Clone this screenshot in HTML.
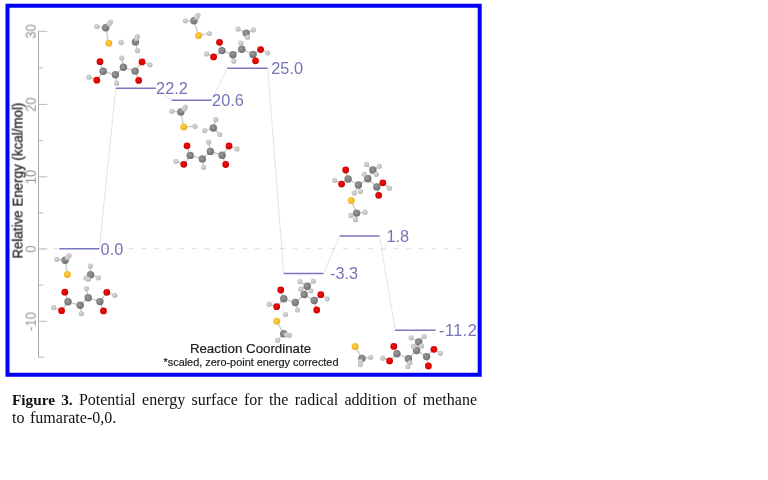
<!DOCTYPE html>
<html><head><meta charset="utf-8"><title>Figure 3</title>
<style>
html,body{margin:0;padding:0;background:#fff;}
body{width:768px;height:480px;position:relative;overflow:hidden;font-family:"Liberation Sans",sans-serif;}
#frame{position:absolute;left:5.5px;top:4px;width:468.2px;height:364.8px;border:4px solid #0000fa;}
svg{position:absolute;left:0;top:0;}
.ax{stroke:#aaaaaa;stroke-width:1;fill:none}
.tc{stroke:#adadad;stroke-width:0.85;fill:none}
.tk{font:14.3px "Liberation Sans",sans-serif;fill:#949494}
.yl{font:14.4px "Liberation Sans",sans-serif;fill:#1a1a1a;stroke:#1a1a1a;stroke-width:0.25}
.lv{stroke:#7878c0;stroke-width:1.4}
.cn{stroke:#adadad;stroke-width:0.8;stroke-dasharray:0.9 1.25}
.zero{stroke:#dcdcdc;stroke-width:1.1;stroke-dasharray:5 7.6}
.lb{font:16.3px "Liberation Sans",sans-serif;fill:#7474b6}
.bd{stroke:#c6c6c6;stroke-width:1.25}
#mols{filter:blur(0.35px)}
.tk,.yl,.lb,.xl,.xs{filter:blur(0.25px)}
.xl{font:13.3px "Liberation Sans",sans-serif;fill:#1c1c1c;stroke:#1c1c1c;stroke-width:0.2}
.xs{font:10.9px "Liberation Sans",sans-serif;fill:#1c1c1c;stroke:#1c1c1c;stroke-width:0.2}
#cap{position:absolute;left:12px;top:390.6px;width:465px;font-family:"Liberation Serif",serif;font-size:16px;line-height:18.8px;color:#111;text-align:justify;}
#cap b{font-weight:bold;font-size:15.3px}
#cap .l1{text-align:justify;text-align-last:justify;white-space:nowrap}
#cap .l2{text-align:left;word-spacing:1.6px}
</style></head><body>
<svg width="768" height="480" viewBox="0 0 768 480">
<defs>
<radialGradient id="gO" cx="42%" cy="40%" r="60%"><stop offset="0" stop-color="#f01818"/><stop offset="0.6" stop-color="#dc0000"/><stop offset="1" stop-color="#c80808"/></radialGradient>
<radialGradient id="gC" cx="42%" cy="40%" r="60%"><stop offset="0" stop-color="#9a9a9a"/><stop offset="0.6" stop-color="#808080"/><stop offset="1" stop-color="#707070"/></radialGradient>
<radialGradient id="gH" cx="42%" cy="40%" r="60%"><stop offset="0" stop-color="#dcdcdc"/><stop offset="0.6" stop-color="#c6c6c6"/><stop offset="1" stop-color="#b4b4b4"/></radialGradient>
<radialGradient id="gS" cx="42%" cy="40%" r="60%"><stop offset="0" stop-color="#ffd24a"/><stop offset="0.6" stop-color="#f6bc2c"/><stop offset="1" stop-color="#eab028"/></radialGradient>
</defs>
<rect x="7.5" y="5.75" width="472.2" height="369" fill="none" stroke="#0000fa" stroke-width="4"/>
<line class="zero" x1="40.6" y1="248.8" x2="461.5" y2="248.8"/>
<line class="ax" x1="38.5" y1="30.9" x2="38.5" y2="357.6"/>
<line class="tc" x1="38.5" y1="357.2" x2="44.1" y2="357.2"/>
<line class="tc" x1="38.5" y1="321.3" x2="47.3" y2="321.3"/>
<line class="tc" x1="38.5" y1="285.2" x2="43.1" y2="285.2"/>
<line class="tc" x1="38.5" y1="249.0" x2="47.3" y2="249.0"/>
<line class="tc" x1="38.5" y1="212.9" x2="43.1" y2="212.9"/>
<line class="tc" x1="38.5" y1="176.8" x2="47.3" y2="176.8"/>
<line class="tc" x1="38.5" y1="140.6" x2="43.1" y2="140.6"/>
<line class="tc" x1="38.5" y1="104.4" x2="47.3" y2="104.4"/>
<line class="tc" x1="38.5" y1="67.8" x2="43.1" y2="67.8"/>
<line class="tc" x1="38.5" y1="31.3" x2="47.3" y2="31.3"/>
<text class="tk" transform="translate(35.7,31.5) rotate(-90) scale(0.91,1)" text-anchor="middle">30</text>
<text class="tk" transform="translate(35.7,104.6) rotate(-90) scale(0.91,1)" text-anchor="middle">20</text>
<text class="tk" transform="translate(35.7,177.0) rotate(-90) scale(0.91,1)" text-anchor="middle">10</text>
<text class="tk" transform="translate(35.7,249.2) rotate(-90) scale(0.91,1)" text-anchor="middle">0</text>
<text class="tk" transform="translate(35.7,321.5) rotate(-90) scale(0.91,1)" text-anchor="middle">-10</text>
<text class="yl" transform="translate(22.6,180.6) rotate(-90) scale(0.93,1)" text-anchor="middle">Relative Energy (kcal/mol)</text>
<line class="cn" x1="99.3" y1="248.8" x2="115.8" y2="88.3"/>
<line class="cn" x1="155.8" y1="88.3" x2="171.7" y2="100.2"/>
<line class="cn" x1="211.6" y1="100.2" x2="227.2" y2="68.3"/>
<line class="cn" x1="267.7" y1="68.3" x2="283.7" y2="273.5"/>
<line class="cn" x1="323.5" y1="273.5" x2="339.7" y2="236.0"/>
<line class="cn" x1="379.5" y1="236.0" x2="395.3" y2="330.3"/>
<line class="lv" x1="59.3" y1="248.8" x2="99.3" y2="248.8"/>
<line class="lv" x1="115.8" y1="88.3" x2="155.8" y2="88.3"/>
<line class="lv" x1="171.7" y1="100.2" x2="211.6" y2="100.2"/>
<line class="lv" x1="227.2" y1="68.3" x2="267.7" y2="68.3"/>
<line class="lv" x1="283.7" y1="273.5" x2="323.5" y2="273.5"/>
<line class="lv" x1="339.7" y1="236.0" x2="379.5" y2="236.0"/>
<line class="lv" x1="395.3" y1="330.3" x2="435.7" y2="330.3"/>
<g id="mols">
<g>
<line class="bd" x1="64.8" y1="292.2" x2="68.0" y2="301.8"/>
<line class="bd" x1="68.0" y1="301.8" x2="61.6" y2="310.7"/>
<line class="bd" x1="61.6" y1="310.7" x2="53.7" y2="307.7"/>
<line class="bd" x1="68.0" y1="301.8" x2="80.2" y2="305.3"/>
<line class="bd" x1="80.2" y1="305.3" x2="81.4" y2="313.7"/>
<line class="bd" x1="80.2" y1="305.3" x2="88.2" y2="297.8"/>
<line class="bd" x1="88.2" y1="297.8" x2="86.5" y2="288.6"/>
<line class="bd" x1="88.2" y1="297.8" x2="99.9" y2="301.6"/>
<line class="bd" x1="99.9" y1="301.6" x2="106.8" y2="292.3"/>
<line class="bd" x1="106.8" y1="292.3" x2="114.8" y2="295.3"/>
<line class="bd" x1="99.9" y1="301.6" x2="103.5" y2="310.9"/>
<line class="bd" x1="56.8" y1="259.4" x2="65.1" y2="260.2"/>
<line class="bd" x1="65.1" y1="260.2" x2="69.0" y2="255.5"/>
<line class="bd" x1="65.1" y1="260.2" x2="67.6" y2="257.6"/>
<line class="bd" x1="65.1" y1="260.2" x2="67.4" y2="274.5"/>
<line class="bd" x1="90.6" y1="274.7" x2="90.4" y2="266.1"/>
<line class="bd" x1="90.6" y1="274.7" x2="85.9" y2="278.1"/>
<line class="bd" x1="90.6" y1="274.7" x2="98.4" y2="277.8"/>
<line class="bd" x1="90.6" y1="274.7" x2="88.3" y2="279.2"/>
<circle cx="64.8" cy="292.2" r="3.4" fill="url(#gO)"/>
<circle cx="68.0" cy="301.8" r="3.7" fill="url(#gC)"/>
<circle cx="61.6" cy="310.7" r="3.4" fill="url(#gO)"/>
<circle cx="53.7" cy="307.7" r="2.6" fill="url(#gH)"/>
<circle cx="80.2" cy="305.3" r="3.7" fill="url(#gC)"/>
<circle cx="81.4" cy="313.7" r="2.6" fill="url(#gH)"/>
<circle cx="88.2" cy="297.8" r="3.7" fill="url(#gC)"/>
<circle cx="86.5" cy="288.6" r="2.6" fill="url(#gH)"/>
<circle cx="99.9" cy="301.6" r="3.7" fill="url(#gC)"/>
<circle cx="106.8" cy="292.3" r="3.4" fill="url(#gO)"/>
<circle cx="114.8" cy="295.3" r="2.6" fill="url(#gH)"/>
<circle cx="103.5" cy="310.9" r="3.4" fill="url(#gO)"/>
<circle cx="56.8" cy="259.4" r="2.6" fill="url(#gH)"/>
<circle cx="65.1" cy="260.2" r="3.7" fill="url(#gC)"/>
<circle cx="69.0" cy="255.5" r="2.6" fill="url(#gH)"/>
<circle cx="67.6" cy="257.6" r="2.6" fill="url(#gH)"/>
<circle cx="67.4" cy="274.5" r="3.5" fill="url(#gS)"/>
<circle cx="90.6" cy="274.7" r="3.7" fill="url(#gC)"/>
<circle cx="90.4" cy="266.1" r="2.6" fill="url(#gH)"/>
<circle cx="85.9" cy="278.1" r="2.6" fill="url(#gH)"/>
<circle cx="98.4" cy="277.8" r="2.6" fill="url(#gH)"/>
<circle cx="88.3" cy="279.2" r="2.6" fill="url(#gH)"/>
</g>
<g>
<line class="bd" x1="100.0" y1="61.7" x2="103.2" y2="71.3"/>
<line class="bd" x1="103.2" y1="71.3" x2="96.8" y2="80.2"/>
<line class="bd" x1="96.8" y1="80.2" x2="88.9" y2="77.2"/>
<line class="bd" x1="103.2" y1="71.3" x2="115.4" y2="74.8"/>
<line class="bd" x1="115.4" y1="74.8" x2="116.6" y2="83.2"/>
<line class="bd" x1="115.4" y1="74.8" x2="123.4" y2="67.3"/>
<line class="bd" x1="123.4" y1="67.3" x2="121.7" y2="58.1"/>
<line class="bd" x1="123.4" y1="67.3" x2="135.1" y2="71.1"/>
<line class="bd" x1="135.1" y1="71.1" x2="142.0" y2="61.9"/>
<line class="bd" x1="142.0" y1="61.9" x2="150.0" y2="64.8"/>
<line class="bd" x1="135.1" y1="71.1" x2="138.7" y2="80.4"/>
<line class="bd" x1="96.8" y1="26.5" x2="105.7" y2="27.7"/>
<line class="bd" x1="105.7" y1="27.7" x2="110.4" y2="22.0"/>
<line class="bd" x1="105.7" y1="27.7" x2="109.0" y2="24.0"/>
<line class="bd" x1="105.7" y1="27.7" x2="108.8" y2="43.3"/>
<line class="bd" x1="135.4" y1="41.9" x2="137.5" y2="36.5"/>
<line class="bd" x1="135.4" y1="41.9" x2="137.5" y2="50.7"/>
<line class="bd" x1="135.4" y1="41.9" x2="136.5" y2="38.5"/>
<circle cx="100.0" cy="61.7" r="3.4" fill="url(#gO)"/>
<circle cx="103.2" cy="71.3" r="3.7" fill="url(#gC)"/>
<circle cx="96.8" cy="80.2" r="3.4" fill="url(#gO)"/>
<circle cx="88.9" cy="77.2" r="2.6" fill="url(#gH)"/>
<circle cx="115.4" cy="74.8" r="3.7" fill="url(#gC)"/>
<circle cx="116.6" cy="83.2" r="2.6" fill="url(#gH)"/>
<circle cx="123.4" cy="67.3" r="3.7" fill="url(#gC)"/>
<circle cx="121.7" cy="58.1" r="2.6" fill="url(#gH)"/>
<circle cx="135.1" cy="71.1" r="3.7" fill="url(#gC)"/>
<circle cx="142.0" cy="61.9" r="3.4" fill="url(#gO)"/>
<circle cx="150.0" cy="64.8" r="2.6" fill="url(#gH)"/>
<circle cx="138.7" cy="80.4" r="3.4" fill="url(#gO)"/>
<circle cx="96.8" cy="26.5" r="2.6" fill="url(#gH)"/>
<circle cx="105.7" cy="27.7" r="3.7" fill="url(#gC)"/>
<circle cx="110.4" cy="22.0" r="2.6" fill="url(#gH)"/>
<circle cx="109.0" cy="24.0" r="2.6" fill="url(#gH)"/>
<circle cx="108.8" cy="43.3" r="3.5" fill="url(#gS)"/>
<circle cx="121.1" cy="42.4" r="2.6" fill="url(#gH)"/>
<circle cx="135.4" cy="41.9" r="3.7" fill="url(#gC)"/>
<circle cx="137.5" cy="36.5" r="2.6" fill="url(#gH)"/>
<circle cx="137.5" cy="50.7" r="2.6" fill="url(#gH)"/>
<circle cx="136.5" cy="38.5" r="2.6" fill="url(#gH)"/>
</g>
<g>
<line class="bd" x1="187.0" y1="145.8" x2="190.2" y2="155.4"/>
<line class="bd" x1="190.2" y1="155.4" x2="183.8" y2="164.3"/>
<line class="bd" x1="183.8" y1="164.3" x2="175.9" y2="161.3"/>
<line class="bd" x1="190.2" y1="155.4" x2="202.4" y2="158.9"/>
<line class="bd" x1="202.4" y1="158.9" x2="203.6" y2="167.3"/>
<line class="bd" x1="202.4" y1="158.9" x2="210.4" y2="151.4"/>
<line class="bd" x1="210.4" y1="151.4" x2="208.7" y2="142.2"/>
<line class="bd" x1="210.4" y1="151.4" x2="222.1" y2="155.2"/>
<line class="bd" x1="222.1" y1="155.2" x2="229.0" y2="146.0"/>
<line class="bd" x1="229.0" y1="146.0" x2="237.0" y2="148.9"/>
<line class="bd" x1="222.1" y1="155.2" x2="225.7" y2="164.5"/>
<line class="bd" x1="172.0" y1="111.3" x2="180.8" y2="112.0"/>
<line class="bd" x1="180.8" y1="112.0" x2="185.3" y2="107.0"/>
<line class="bd" x1="180.8" y1="112.0" x2="184.0" y2="109.0"/>
<line class="bd" x1="180.8" y1="112.0" x2="183.8" y2="127.0"/>
<line class="bd" x1="183.8" y1="127.0" x2="195.0" y2="126.3"/>
<line class="bd" x1="213.3" y1="128.0" x2="215.8" y2="119.7"/>
<line class="bd" x1="213.3" y1="128.0" x2="204.7" y2="130.5"/>
<line class="bd" x1="213.3" y1="128.0" x2="219.7" y2="134.5"/>
<circle cx="187.0" cy="145.8" r="3.4" fill="url(#gO)"/>
<circle cx="190.2" cy="155.4" r="3.7" fill="url(#gC)"/>
<circle cx="183.8" cy="164.3" r="3.4" fill="url(#gO)"/>
<circle cx="175.9" cy="161.3" r="2.6" fill="url(#gH)"/>
<circle cx="202.4" cy="158.9" r="3.7" fill="url(#gC)"/>
<circle cx="203.6" cy="167.3" r="2.6" fill="url(#gH)"/>
<circle cx="210.4" cy="151.4" r="3.7" fill="url(#gC)"/>
<circle cx="208.7" cy="142.2" r="2.6" fill="url(#gH)"/>
<circle cx="222.1" cy="155.2" r="3.7" fill="url(#gC)"/>
<circle cx="229.0" cy="146.0" r="3.4" fill="url(#gO)"/>
<circle cx="237.0" cy="148.9" r="2.6" fill="url(#gH)"/>
<circle cx="225.7" cy="164.5" r="3.4" fill="url(#gO)"/>
<circle cx="172.0" cy="111.3" r="2.6" fill="url(#gH)"/>
<circle cx="180.8" cy="112.0" r="3.7" fill="url(#gC)"/>
<circle cx="185.3" cy="107.0" r="2.6" fill="url(#gH)"/>
<circle cx="184.0" cy="109.0" r="2.6" fill="url(#gH)"/>
<circle cx="183.8" cy="127.0" r="3.5" fill="url(#gS)"/>
<circle cx="195.0" cy="126.3" r="2.6" fill="url(#gH)"/>
<circle cx="213.3" cy="128.0" r="3.7" fill="url(#gC)"/>
<circle cx="215.8" cy="119.7" r="2.6" fill="url(#gH)"/>
<circle cx="204.7" cy="130.5" r="2.6" fill="url(#gH)"/>
<circle cx="219.7" cy="134.5" r="2.6" fill="url(#gH)"/>
</g>
<g>
<line class="bd" x1="185.5" y1="20.8" x2="194.0" y2="20.8"/>
<line class="bd" x1="194.0" y1="20.8" x2="197.9" y2="15.3"/>
<line class="bd" x1="194.0" y1="20.8" x2="196.6" y2="17.3"/>
<line class="bd" x1="194.0" y1="20.8" x2="198.6" y2="35.4"/>
<line class="bd" x1="198.6" y1="35.4" x2="209.3" y2="33.5"/>
<line class="bd" x1="246.2" y1="33.1" x2="238.0" y2="29.1"/>
<line class="bd" x1="246.2" y1="33.1" x2="253.3" y2="29.9"/>
<line class="bd" x1="246.2" y1="33.1" x2="247.5" y2="37.2"/>
<line class="bd" x1="219.5" y1="42.3" x2="222.0" y2="50.6"/>
<line class="bd" x1="222.0" y1="50.6" x2="213.6" y2="56.9"/>
<line class="bd" x1="213.6" y1="56.9" x2="206.6" y2="53.9"/>
<line class="bd" x1="222.0" y1="50.6" x2="232.9" y2="54.7"/>
<line class="bd" x1="232.9" y1="54.7" x2="233.8" y2="61.2"/>
<line class="bd" x1="232.9" y1="54.7" x2="241.8" y2="49.3"/>
<line class="bd" x1="241.8" y1="49.3" x2="240.9" y2="43.0"/>
<line class="bd" x1="241.8" y1="49.3" x2="253.0" y2="54.4"/>
<line class="bd" x1="253.0" y1="54.4" x2="260.6" y2="49.6"/>
<line class="bd" x1="260.6" y1="49.6" x2="267.6" y2="52.8"/>
<line class="bd" x1="253.0" y1="54.4" x2="255.5" y2="60.8"/>
<circle cx="185.5" cy="20.8" r="2.6" fill="url(#gH)"/>
<circle cx="194.0" cy="20.8" r="3.7" fill="url(#gC)"/>
<circle cx="197.9" cy="15.3" r="2.6" fill="url(#gH)"/>
<circle cx="196.6" cy="17.3" r="2.6" fill="url(#gH)"/>
<circle cx="198.6" cy="35.4" r="3.5" fill="url(#gS)"/>
<circle cx="209.3" cy="33.5" r="2.6" fill="url(#gH)"/>
<circle cx="246.2" cy="33.1" r="3.7" fill="url(#gC)"/>
<circle cx="238.0" cy="29.1" r="2.6" fill="url(#gH)"/>
<circle cx="253.3" cy="29.9" r="2.6" fill="url(#gH)"/>
<circle cx="247.5" cy="37.2" r="2.6" fill="url(#gH)"/>
<circle cx="219.5" cy="42.3" r="3.4" fill="url(#gO)"/>
<circle cx="222.0" cy="50.6" r="3.7" fill="url(#gC)"/>
<circle cx="213.6" cy="56.9" r="3.4" fill="url(#gO)"/>
<circle cx="206.6" cy="53.9" r="2.6" fill="url(#gH)"/>
<circle cx="232.9" cy="54.7" r="3.7" fill="url(#gC)"/>
<circle cx="233.8" cy="61.2" r="2.6" fill="url(#gH)"/>
<circle cx="241.8" cy="49.3" r="3.7" fill="url(#gC)"/>
<circle cx="240.9" cy="43.0" r="2.6" fill="url(#gH)"/>
<circle cx="253.0" cy="54.4" r="3.7" fill="url(#gC)"/>
<circle cx="260.6" cy="49.6" r="3.4" fill="url(#gO)"/>
<circle cx="267.6" cy="52.8" r="2.6" fill="url(#gH)"/>
<circle cx="255.5" cy="60.8" r="3.4" fill="url(#gO)"/>
</g>
<g>
<line class="bd" x1="280.8" y1="290.0" x2="283.7" y2="298.8"/>
<line class="bd" x1="283.7" y1="298.8" x2="276.7" y2="306.7"/>
<line class="bd" x1="276.7" y1="306.7" x2="269.2" y2="304.2"/>
<line class="bd" x1="283.7" y1="298.8" x2="295.3" y2="302.5"/>
<line class="bd" x1="295.3" y1="302.5" x2="297.5" y2="310.0"/>
<line class="bd" x1="295.3" y1="302.5" x2="304.2" y2="294.5"/>
<line class="bd" x1="304.2" y1="294.5" x2="307.2" y2="286.3"/>
<line class="bd" x1="307.2" y1="286.3" x2="300.8" y2="289.2"/>
<line class="bd" x1="307.2" y1="286.3" x2="310.8" y2="290.8"/>
<line class="bd" x1="307.2" y1="286.3" x2="300.0" y2="281.7"/>
<line class="bd" x1="307.2" y1="286.3" x2="313.3" y2="281.2"/>
<line class="bd" x1="304.2" y1="294.5" x2="314.2" y2="300.5"/>
<line class="bd" x1="314.2" y1="300.5" x2="320.8" y2="294.7"/>
<line class="bd" x1="320.8" y1="294.7" x2="327.2" y2="298.8"/>
<line class="bd" x1="314.2" y1="300.5" x2="316.7" y2="310.0"/>
<line class="bd" x1="276.7" y1="321.3" x2="283.7" y2="333.7"/>
<line class="bd" x1="283.7" y1="333.7" x2="289.5" y2="335.3"/>
<line class="bd" x1="283.7" y1="333.7" x2="277.5" y2="340.3"/>
<line class="bd" x1="283.7" y1="333.7" x2="286.5" y2="334.8"/>
<circle cx="280.8" cy="290.0" r="3.4" fill="url(#gO)"/>
<circle cx="283.7" cy="298.8" r="3.7" fill="url(#gC)"/>
<circle cx="276.7" cy="306.7" r="3.4" fill="url(#gO)"/>
<circle cx="269.2" cy="304.2" r="2.6" fill="url(#gH)"/>
<circle cx="295.3" cy="302.5" r="3.7" fill="url(#gC)"/>
<circle cx="297.5" cy="310.0" r="2.6" fill="url(#gH)"/>
<circle cx="304.2" cy="294.5" r="3.7" fill="url(#gC)"/>
<circle cx="300.8" cy="289.2" r="2.6" fill="url(#gH)"/>
<circle cx="310.8" cy="290.8" r="2.6" fill="url(#gH)"/>
<circle cx="307.2" cy="286.3" r="3.7" fill="url(#gC)"/>
<circle cx="300.0" cy="281.7" r="2.6" fill="url(#gH)"/>
<circle cx="313.3" cy="281.2" r="2.6" fill="url(#gH)"/>
<circle cx="314.2" cy="300.5" r="3.7" fill="url(#gC)"/>
<circle cx="320.8" cy="294.7" r="3.4" fill="url(#gO)"/>
<circle cx="327.2" cy="298.8" r="2.6" fill="url(#gH)"/>
<circle cx="316.7" cy="310.0" r="3.4" fill="url(#gO)"/>
<circle cx="276.7" cy="321.3" r="3.5" fill="url(#gS)"/>
<circle cx="285.5" cy="314.5" r="2.6" fill="url(#gH)"/>
<circle cx="283.7" cy="333.7" r="3.7" fill="url(#gC)"/>
<circle cx="289.5" cy="335.3" r="2.6" fill="url(#gH)"/>
<circle cx="277.5" cy="340.3" r="2.6" fill="url(#gH)"/>
<circle cx="286.5" cy="334.8" r="2.6" fill="url(#gH)"/>
</g>
<g>
<line class="bd" x1="345.7" y1="170.0" x2="348.1" y2="179.0"/>
<line class="bd" x1="348.1" y1="179.0" x2="341.6" y2="184.1"/>
<line class="bd" x1="341.6" y1="184.1" x2="334.6" y2="180.3"/>
<line class="bd" x1="348.1" y1="179.0" x2="358.4" y2="185.0"/>
<line class="bd" x1="358.4" y1="185.0" x2="360.3" y2="191.6"/>
<line class="bd" x1="358.4" y1="185.0" x2="354.3" y2="193.1"/>
<line class="bd" x1="358.4" y1="185.0" x2="367.8" y2="178.8"/>
<line class="bd" x1="367.8" y1="178.8" x2="364.4" y2="174.3"/>
<line class="bd" x1="367.8" y1="178.8" x2="372.9" y2="170.0"/>
<line class="bd" x1="372.9" y1="170.0" x2="366.5" y2="164.4"/>
<line class="bd" x1="372.9" y1="170.0" x2="379.4" y2="166.3"/>
<line class="bd" x1="372.9" y1="170.0" x2="376.3" y2="174.3"/>
<line class="bd" x1="367.8" y1="178.8" x2="376.8" y2="186.9"/>
<line class="bd" x1="376.8" y1="186.9" x2="382.8" y2="182.8"/>
<line class="bd" x1="382.8" y1="182.8" x2="389.4" y2="188.2"/>
<line class="bd" x1="376.8" y1="186.9" x2="378.7" y2="195.3"/>
<line class="bd" x1="351.3" y1="200.6" x2="356.6" y2="213.1"/>
<line class="bd" x1="356.6" y1="213.1" x2="365.0" y2="212.2"/>
<line class="bd" x1="356.6" y1="213.1" x2="350.9" y2="215.4"/>
<line class="bd" x1="356.6" y1="213.1" x2="355.6" y2="219.7"/>
<circle cx="345.7" cy="170.0" r="3.4" fill="url(#gO)"/>
<circle cx="348.1" cy="179.0" r="3.7" fill="url(#gC)"/>
<circle cx="341.6" cy="184.1" r="3.4" fill="url(#gO)"/>
<circle cx="334.6" cy="180.3" r="2.6" fill="url(#gH)"/>
<circle cx="358.4" cy="185.0" r="3.7" fill="url(#gC)"/>
<circle cx="360.3" cy="191.6" r="2.6" fill="url(#gH)"/>
<circle cx="354.3" cy="193.1" r="2.6" fill="url(#gH)"/>
<circle cx="367.8" cy="178.8" r="3.7" fill="url(#gC)"/>
<circle cx="364.4" cy="174.3" r="2.6" fill="url(#gH)"/>
<circle cx="372.9" cy="170.0" r="3.7" fill="url(#gC)"/>
<circle cx="366.5" cy="164.4" r="2.6" fill="url(#gH)"/>
<circle cx="379.4" cy="166.3" r="2.6" fill="url(#gH)"/>
<circle cx="376.3" cy="174.3" r="2.6" fill="url(#gH)"/>
<circle cx="376.8" cy="186.9" r="3.7" fill="url(#gC)"/>
<circle cx="382.8" cy="182.8" r="3.4" fill="url(#gO)"/>
<circle cx="389.4" cy="188.2" r="2.6" fill="url(#gH)"/>
<circle cx="378.7" cy="195.3" r="3.4" fill="url(#gO)"/>
<circle cx="351.3" cy="200.6" r="3.5" fill="url(#gS)"/>
<circle cx="356.6" cy="213.1" r="3.7" fill="url(#gC)"/>
<circle cx="365.0" cy="212.2" r="2.6" fill="url(#gH)"/>
<circle cx="350.9" cy="215.4" r="2.6" fill="url(#gH)"/>
<circle cx="355.6" cy="219.7" r="2.6" fill="url(#gH)"/>
</g>
<g>
<line class="bd" x1="355.1" y1="346.4" x2="361.9" y2="358.4"/>
<line class="bd" x1="361.9" y1="358.4" x2="370.6" y2="357.3"/>
<line class="bd" x1="361.9" y1="358.4" x2="360.6" y2="361.5"/>
<line class="bd" x1="361.9" y1="358.4" x2="360.4" y2="364.6"/>
<line class="bd" x1="382.8" y1="358.2" x2="389.6" y2="360.9"/>
<line class="bd" x1="389.6" y1="360.9" x2="396.9" y2="353.8"/>
<line class="bd" x1="396.9" y1="353.8" x2="393.8" y2="346.4"/>
<line class="bd" x1="396.9" y1="353.8" x2="408.4" y2="358.7"/>
<line class="bd" x1="408.4" y1="358.7" x2="409.8" y2="362.8"/>
<line class="bd" x1="408.4" y1="358.7" x2="407.8" y2="366.6"/>
<line class="bd" x1="408.4" y1="358.7" x2="416.6" y2="350.5"/>
<line class="bd" x1="416.6" y1="350.5" x2="413.5" y2="346.4"/>
<line class="bd" x1="416.6" y1="350.5" x2="418.7" y2="342.0"/>
<line class="bd" x1="418.7" y1="342.0" x2="411.1" y2="337.8"/>
<line class="bd" x1="418.7" y1="342.0" x2="424.2" y2="336.5"/>
<line class="bd" x1="418.7" y1="342.0" x2="421.5" y2="346.0"/>
<line class="bd" x1="416.6" y1="350.5" x2="426.6" y2="356.6"/>
<line class="bd" x1="426.6" y1="356.6" x2="433.9" y2="349.3"/>
<line class="bd" x1="433.9" y1="349.3" x2="440.3" y2="353.3"/>
<line class="bd" x1="426.6" y1="356.6" x2="428.4" y2="366.0"/>
<circle cx="355.1" cy="346.4" r="3.5" fill="url(#gS)"/>
<circle cx="361.9" cy="358.4" r="3.7" fill="url(#gC)"/>
<circle cx="370.6" cy="357.3" r="2.6" fill="url(#gH)"/>
<circle cx="360.6" cy="361.5" r="2.6" fill="url(#gH)"/>
<circle cx="360.4" cy="364.6" r="2.6" fill="url(#gH)"/>
<circle cx="382.8" cy="358.2" r="2.6" fill="url(#gH)"/>
<circle cx="389.6" cy="360.9" r="3.4" fill="url(#gO)"/>
<circle cx="396.9" cy="353.8" r="3.7" fill="url(#gC)"/>
<circle cx="393.8" cy="346.4" r="3.4" fill="url(#gO)"/>
<circle cx="408.4" cy="358.7" r="3.7" fill="url(#gC)"/>
<circle cx="409.8" cy="362.8" r="2.6" fill="url(#gH)"/>
<circle cx="407.8" cy="366.6" r="2.6" fill="url(#gH)"/>
<circle cx="416.6" cy="350.5" r="3.7" fill="url(#gC)"/>
<circle cx="413.5" cy="346.4" r="2.6" fill="url(#gH)"/>
<circle cx="418.7" cy="342.0" r="3.7" fill="url(#gC)"/>
<circle cx="411.1" cy="337.8" r="2.6" fill="url(#gH)"/>
<circle cx="424.2" cy="336.5" r="2.6" fill="url(#gH)"/>
<circle cx="421.5" cy="346.0" r="2.6" fill="url(#gH)"/>
<circle cx="426.6" cy="356.6" r="3.7" fill="url(#gC)"/>
<circle cx="433.9" cy="349.3" r="3.4" fill="url(#gO)"/>
<circle cx="440.3" cy="353.3" r="2.6" fill="url(#gH)"/>
<circle cx="428.4" cy="366.0" r="3.4" fill="url(#gO)"/>
</g>
</g>
<text class="lb" x="100.6" y="254.5">0.0</text>
<text class="lb" x="156.1" y="93.8">22.2</text>
<text class="lb" x="212.1" y="105.7">20.6</text>
<text class="lb" x="271.3" y="73.8">25.0</text>
<text class="lb" x="330.1" y="279.0">-3.3</text>
<text class="lb" x="386.5" y="241.5">1.8</text>
<text class="lb" x="439.0" y="336.1" letter-spacing="0.5">-11.2</text>
<text class="xl" x="250.5" y="352.6" text-anchor="middle">Reaction Coordinate</text>
<text class="xs" x="251.0" y="366.3" text-anchor="middle">*scaled, zero-point energy corrected</text>
</svg>
<div id="cap"><div class="l1"><b>Figure 3.</b> Potential energy surface for the radical addition of methane</div><div class="l2">to fumarate-0,0.</div></div>
</body></html>
